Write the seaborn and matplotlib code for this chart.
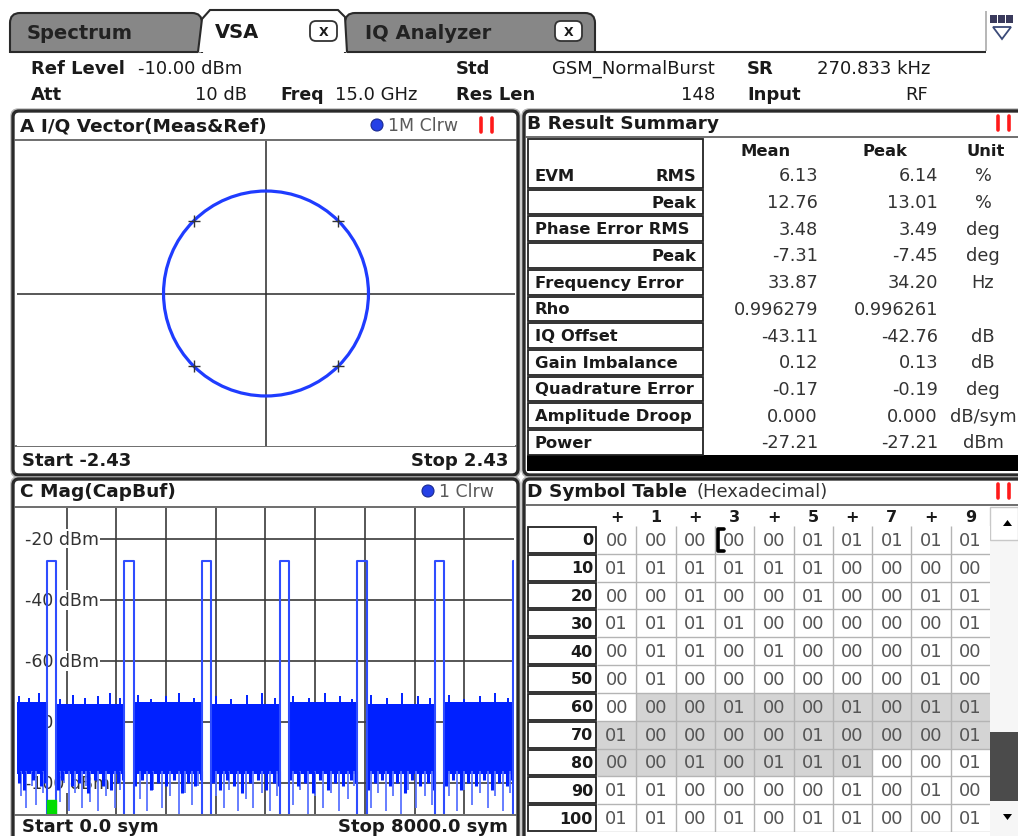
"""
VSA screen: I/Q vector, result summary, burst magnitude and symbol table
"""

import numpy as np
import pandas as pd
import matplotlib
matplotlib.use("Agg")
import matplotlib.pyplot as plt
from matplotlib.patches import Rectangle, FancyBboxPatch, Circle, Polygon
from matplotlib.colors import ListedColormap
import seaborn as sns

W, H = 1018, 837

# ---------------- data ----------------
iq_span = 2.43
iq_magnitude = 1.0
ref_i = [0.707, -0.707, -0.707, 0.707]
ref_q = [0.707, 0.707, -0.707, -0.707]

summary_name = ["EVM", "", "Phase Error RMS", "", "Frequency Error", "Rho",
                "IQ Offset", "Gain Imbalance", "Quadrature Error",
                "Amplitude Droop", "Power"]
summary_sub = ["RMS", "Peak", "", "Peak", "", "", "", "", "", "", ""]
summary_mean = ["6.13", "12.76", "3.48", "-7.31", "33.87", "0.996279",
                "-43.11", "0.12", "-0.17", "0.000", "-27.21"]
summary_peak = ["6.14", "13.01", "3.49", "-7.45", "34.20", "0.996261",
                "-42.76", "0.13", "-0.19", "0.000", "-27.21"]
summary_unit = ["%", "%", "deg", "deg", "Hz", "", "dB", "dB", "deg",
                "dB/sym", "dBm"]

mag_start, mag_stop = 0.0, 8000.0
mag_ref, mag_bottom = -10.0, -110.0
mag_grid_dbm = [-20, -40, -60, -80, -100]
burst_start = [480, 1730, 2980, 4230, 5480, 6730, 7980]
burst_len = 148
burst_level = -27.2
noise_top = [-73.5, -74.0, -73.5, -74.0, -73.5, -74.0, -73.5]
noise_floor = -97.0
# light downward spikes reaching the bottom of the screen
spike_sym = [70, 150, 235, 310, 420,
             690, 760, 830, 935, 1040, 1110, 1175, 1310, 1440, 1580, 1660,
             1980, 2090, 2195, 2330, 2460, 2600, 2700, 2810, 2920,
             3200, 3330, 3420, 3560, 3690, 3800, 3950, 4080, 4180,
             4450, 4560, 4690, 4800, 4930, 5060, 5190, 5330, 5430,
             5700, 5810, 5940, 6060, 6180, 6300, 6420, 6560, 6680,
             6950, 7080, 7200, 7330, 7460, 7580, 7700, 7830, 7930]
spike_dbm = [-104, -108, -101, -107, -103,
             -106, -100, -109, -103, -108, -101, -106, -109, -104, -108, -102,
             -105, -109, -102, -108, -104, -110, -103, -107, -101,
             -104, -108, -102, -109, -105, -108, -103, -109, -104,
             -107, -102, -110, -104, -108, -103, -109, -105, -101,
             -108, -103, -109, -104, -110, -102, -108, -104, -107,
             -104, -109, -102, -107, -103, -108, -104, -109, -103]
# dense dips just under the noise floor
dip_sym = [30, 120, 260, 380, 450,
           660, 720, 880, 990, 1150, 1250, 1380, 1520, 1620, 1700,
           1900, 2020, 2150, 2270, 2400, 2530, 2650, 2760, 2870, 2960,
           3150, 3260, 3380, 3500, 3620, 3750, 3880, 4010, 4130, 4210,
           4400, 4520, 4640, 4760, 4880, 5000, 5120, 5250, 5380, 5460,
           5650, 5760, 5880, 6000, 6120, 6240, 6360, 6490, 6610, 6710,
           6900, 7020, 7140, 7260, 7390, 7520, 7640, 7760, 7880, 7960]
dip_dbm = [-100, -102, -99, -101, -100,
           -102, -99, -101, -100, -103, -99, -101, -102, -100, -99,
           -101, -99, -102, -100, -101, -99, -103, -100, -101, -99,
           -100, -102, -99, -101, -103, -100, -99, -102, -100, -101,
           -99, -101, -100, -103, -99, -102, -100, -101, -99, -100,
           -102, -100, -99, -101, -100, -103, -99, -101, -100, -102,
           -101, -99, -102, -100, -101, -99, -102, -100, -101, -99]
# small jags on top of the noise band
jag_sym = [40, 200, 350, 700, 900, 1100, 1300, 1500, 1650, 1950, 2150, 2400,
           2600, 2850, 3200, 3450, 3700, 3950, 4150, 4450, 4700, 4950, 5200,
           5400, 5700, 5950, 6200, 6450, 6650, 6950, 7200, 7450, 7700, 7900]
jag_dbm = [-71.5, -72.0, -70.5, -72.5, -71.0, -72.0, -71.5, -70.5, -72.0,
           -71.0, -72.5, -71.5, -70.5, -72.0, -71.5, -72.5, -71.0, -70.5,
           -72.0, -71.5, -72.0, -70.5, -71.5, -72.5, -71.0, -72.0, -70.5,
           -71.5, -72.0, -71.0, -72.5, -71.5, -70.5, -72.0]

sym_cols = ["+", "1", "+", "3", "+", "5", "+", "7", "+", "9"]
sym_rows = ["0", "10", "20", "30", "40", "50", "60", "70", "80", "90", "100"]
symbol_table = [
    ["00", "00", "00", "00", "00", "01", "01", "01", "01", "01"],
    ["01", "01", "01", "01", "01", "01", "00", "00", "00", "00"],
    ["00", "00", "01", "00", "00", "01", "00", "00", "01", "01"],
    ["01", "01", "01", "01", "00", "00", "00", "00", "00", "01"],
    ["00", "01", "01", "00", "01", "00", "00", "00", "01", "00"],
    ["00", "01", "00", "00", "00", "00", "00", "00", "01", "00"],
    ["00", "00", "00", "01", "00", "00", "01", "00", "01", "01"],
    ["01", "00", "00", "00", "00", "01", "00", "00", "00", "01"],
    ["00", "00", "01", "00", "01", "01", "01", "00", "00", "01"],
    ["01", "01", "00", "00", "00", "00", "01", "00", "01", "00"],
    ["01", "01", "00", "01", "00", "01", "01", "00", "00", "01"],
]
tsc_first, tsc_last = 61, 86

# ---------------- styling ----------------
sns.set_style("white")
plt.rcParams["font.family"] = ["DejaVu Sans"]

BLUE = "#1f3cff"
DARK = "#2a2a2a"


def rect(x0, y0, x1, y1):
    return [x0 / W, 1 - y1 / H, (x1 - x0) / W, (y1 - y0) / H]


fig = plt.figure(figsize=(W / 100, H / 100), dpi=100)
bg = fig.add_axes([0, 0, 1, 1], zorder=0)
bg.set_xlim(0, W)
bg.set_ylim(H, 0)
bg.axis("off")


def txt(x, y, s, size=13, bold=False, color="#1a1a1a", ha="left", **kw):
    bg.text(x, y, s, fontsize=size, fontweight="bold" if bold else "normal",
            color=color, ha=ha, va="center", **kw)


def hline(x0, x1, y, color=DARK, lw=1.2):
    bg.plot([x0, x1], [y, y], color=color, lw=lw, solid_capstyle="butt")


def vline(x, y0, y1, color=DARK, lw=1.2):
    bg.plot([x, x], [y0, y1], color=color, lw=lw, solid_capstyle="butt")


# ---------------- tabs ----------------
for x0, w in [(10, 192), (345, 250)]:
    bg.add_patch(FancyBboxPatch((x0, 14), w, 60,
                                boxstyle="round,pad=0,rounding_size=10",
                                fc="#878787", ec=DARK, lw=1.5))
bg.add_patch(Polygon([[198, 53], [202, 20], [210, 11], [338, 11], [345, 18],
                      [347, 53]], closed=False, fc="white", ec=DARK, lw=1.5))
bg.add_patch(Rectangle((0, 54), W, 60, fc="white", ec="none", zorder=2))
hline(10, 198, 53, lw=1.5)
hline(347, 986, 53, lw=1.5)
vline(986, 12, 52, color="#aaaaaa", lw=1.2)
txt(27, 33, "Spectrum", 14, True, color="#222222")
txt(215, 32, "VSA", 14, True)
txt(365, 33, "IQ Analyzer", 14, True, color="#222222")
for cx in (310, 555):
    bg.add_patch(FancyBboxPatch((cx, 22), 27, 20,
                                boxstyle="round,pad=0,rounding_size=6",
                                fc="white", ec="#333333", lw=1.3))
    txt(cx + 13.5, 32, "X", 9, True, ha="center")
for sx in (990, 998, 1006):
    bg.add_patch(Rectangle((sx, 16), 7, 8, fc="#3a3a5c", ec="none"))
bg.add_patch(Polygon([[993, 28], [1011, 28], [1002, 40]], closed=True,
                     fc="white", ec="#3b4a78", lw=1.3))

# ---------------- info rows ----------------
txt(31, 69, "Ref Level", 13, True, zorder=3)
txt(138, 69, "-10.00 dBm", 13, zorder=3)
txt(456, 69, "Std", 13, True, zorder=3)
txt(715, 69, "GSM_NormalBurst", 13, ha="right", zorder=3)
txt(747, 69, "SR", 13, True, zorder=3)
txt(930, 69, "270.833 kHz", 13, ha="right", zorder=3)
txt(31, 95, "Att", 13, True, zorder=3)
txt(247, 95, "10 dB", 13, ha="right", zorder=3)
txt(280, 95, "Freq", 12.5, True, zorder=3)
txt(335, 95, "15.0 GHz", 13, zorder=3)
txt(456, 95, "Res Len", 13, True, zorder=3)
txt(715, 95, "148", 13, ha="right", zorder=3)
txt(747, 95, "Input", 13, True, zorder=3)
txt(928, 95, "RF", 13, ha="right", zorder=3)


# ---------------- panel frames ----------------
def frame(x0, y0, x1, y1):
    bg.add_patch(FancyBboxPatch((x0 - 2, y0 - 2), x1 - x0 + 4, y1 - y0 + 4,
                                boxstyle="round,pad=0,rounding_size=7",
                                fc="none", ec="#b5b5b5", lw=1.0, zorder=3))
    bg.add_patch(FancyBboxPatch((x0, y0), x1 - x0, y1 - y0,
                                boxstyle="round,pad=0,rounding_size=6",
                                fc="white", ec=DARK, lw=2.4, zorder=3))


frame(13, 112, 518, 476)
frame(524, 112, 1040, 476)
frame(13, 480, 518, 860)
frame(524, 480, 1040, 860)
for x0, x1, y in [(15, 516, 141), (15, 516, 447), (526, 1018, 138),
                  (15, 516, 508), (15, 516, 816), (526, 1018, 506)]:
    bg.plot([x0, x1], [y, y], color="#555555", lw=1.2, zorder=4)


def red_bars(x, y):
    for dx in (0, 11):
        bg.plot([x + dx, x + dx], [y - 7, y + 7], color="#ff1a1a", lw=2.6,
                zorder=5)


def legend_dot(x, y, label):
    bg.add_patch(Circle((x, y), 6, fc="#2540e6", ec="#1a2a90", lw=0.8,
                        zorder=5))
    txt(x + 11, y, label, 12.5, color="#5a5a5a", zorder=5)


# titles
txt(20, 126, "A I/Q Vector(Meas&Ref)", 13.3, True, zorder=5)
legend_dot(377, 126, "1M Clrw")
red_bars(481, 126)
txt(527, 124, "B Result Summary", 13.3, True, zorder=5)
red_bars(998, 124)
txt(20, 492, "C Mag(CapBuf)", 13.3, True, zorder=5)
legend_dot(428, 492, "1 Clrw")
txt(527, 492, "D Symbol Table", 13.3, True, zorder=5)
txt(697, 492, "(Hexadecimal)", 13, color="#333333", zorder=5)
red_bars(998, 492)
txt(22, 461, "Start -2.43", 13, True, zorder=5)
txt(508, 461, "Stop 2.43", 13, True, ha="right", zorder=5)
txt(22, 827, "Start 0.0 sym", 13, True, zorder=5)
txt(508, 827, "Stop 8000.0 sym", 13, True, ha="right", zorder=5)

# ---------------- A: I/Q vector ----------------
axa = fig.add_axes(rect(17, 142, 515, 447), zorder=2)
axa.set_xlim(-iq_span, iq_span)
yspan = iq_span * (447 - 142) / (515 - 17)
axa.set_ylim(-yspan, yspan)
axa.axhline(0, color=DARK, lw=1.1, zorder=1)
axa.axvline(0, color=DARK, lw=1.1, zorder=1)
axa.add_patch(Circle((0, 0), iq_magnitude, fill=False, ec=BLUE, lw=2.3,
                     zorder=2))
sns.scatterplot(x=ref_i, y=ref_q, marker="+", s=80, color="#333333",
                linewidth=1.0, ax=axa, zorder=3)
axa.set_xticks([])
axa.set_yticks([])
for sp in axa.spines.values():
    sp.set_visible(False)

# ---------------- B: result summary ----------------
row_h = 26.7
top = 163
bg.add_patch(Rectangle((527, 456), 495, 16, fc="black", ec="none", zorder=4))
for i in range(len(summary_name)):
    y0 = top + row_h * i
    y1 = y0 + row_h
    yc = (y0 + y1) / 2
    hline(704, 1018, y1, color="#c4c4c4", lw=1.0)
    by0 = 139 if i == 0 else y0
    bg.add_patch(Rectangle((528.5, by0 + 1), 175, y1 - by0 - 2, fc="white",
                           ec="#222222", lw=1.3, zorder=4))
    if summary_name[i]:
        txt(535, yc, summary_name[i], 11.8, True, zorder=5)
    if summary_sub[i]:
        txt(696, yc, summary_sub[i], 11.8, True, ha="right", zorder=5)
    txt(818, yc, summary_mean[i], 12.8, color="#333333", ha="right", zorder=5)
    txt(938, yc, summary_peak[i], 12.8, color="#333333", ha="right", zorder=5)
    txt(983, yc, summary_unit[i], 12.8, color="#333333", ha="center", zorder=5)
vline(825, 163, 456, color="#c4c4c4", lw=1.0)
vline(944, 163, 456, color="#c4c4c4", lw=1.0)
vline(825, 139, 163, lw=1.8)
vline(944, 139, 163, lw=1.8)
hline(704, 1018, 163, lw=1.8)
txt(766, 151, "Mean", 11.8, True, ha="center", zorder=5)
txt(885, 151, "Peak", 11.8, True, ha="center", zorder=5)
txt(986, 151, "Unit", 11.8, True, ha="center", zorder=5)

# ---------------- C: magnitude capture buffer ----------------
axc = fig.add_axes(rect(17, 509, 514, 815), zorder=2)
axc.set_xlim(mag_start, mag_stop)
axc.set_ylim(mag_bottom, mag_ref)
for k in range(1, 10):
    axc.axvline(mag_start + k * (mag_stop - mag_start) / 10, color="#3a3a3a",
                lw=1.2, zorder=1)
for yv in mag_grid_dbm:
    axc.axhline(yv, color="#3a3a3a", lw=1.2, zorder=1)
    axc.add_patch(Rectangle((mag_start, yv - 1.5), 140, 3, fc="white",
                            ec="none", zorder=1.5))
    axc.text(130, yv, f"{yv} dBm", fontsize=12.5, color="#333333",
             va="center", ha="left", zorder=2,
             bbox=dict(fc="white", ec="none", pad=0.6))

gap_edges = [mag_start] + [s + burst_len for s in burst_start[:-1]]
for k, (a, b) in enumerate(zip(gap_edges, burst_start)):
    axc.fill_between([a, b], [noise_floor, noise_floor],
                     [noise_top[k], noise_top[k]], color="#0020ff", lw=0,
                     zorder=3)
axc.vlines(spike_sym, noise_floor + 1, spike_dbm, color="#5a74ff", lw=1.3,
           zorder=3)
axc.vlines(dip_sym, noise_floor + 1, dip_dbm, color="#0020ff", lw=2.2,
           zorder=3)
axc.vlines(jag_sym, noise_top[0] - 1, jag_dbm, color="#0020ff", lw=1.4,
           zorder=3)

burst_df = pd.DataFrame({
    "burst": np.repeat(np.arange(len(burst_start)), 4),
    "sym": np.ravel([[s, s, s + burst_len, s + burst_len] for s in burst_start]),
    "dbm": np.tile([mag_bottom, burst_level, burst_level, mag_bottom],
                   len(burst_start)),
})
sns.lineplot(data=burst_df, x="sym", y="dbm", units="burst", estimator=None,
             sort=False, color="#2f4dff", lw=1.5, ax=axc, zorder=4)
axc.add_patch(Rectangle((burst_start[0], mag_bottom), burst_len, 4.5,
                        color="#00dd00", zorder=5))
axc.set_xticks([])
axc.set_yticks([])
axc.set_xlabel("")
axc.set_ylabel("")
for sp in axc.spines.values():
    sp.set_visible(False)

# ---------------- D: symbol table ----------------
n_rows, n_cols = len(symbol_table), len(sym_cols)
idx = np.arange(n_rows)[:, None] * n_cols + np.arange(n_cols)[None, :]
shade = ((idx >= tsc_first) & (idx <= tsc_last)).astype(int)

axd = fig.add_axes(rect(597, 527, 990, 833), zorder=2)
sns.heatmap(shade, ax=axd, cmap=ListedColormap(["white", "#d4d4d4"]),
            vmin=0, vmax=1, cbar=False, annot=np.array(symbol_table), fmt="",
            annot_kws={"color": "#555555", "fontsize": 13},
            linewidths=0, xticklabels=False, yticklabels=False)
axd.hlines(np.arange(1, n_rows + 1), 0, n_cols, color="#b4b4b4", lw=1.0,
           zorder=3)
axd.vlines(np.arange(1, n_cols), 0, n_rows, color="#b4b4b4", lw=1.0,
           zorder=3)
axd.plot([3.24, 3.07, 3.07, 3.24], [0.1, 0.1, 0.9, 0.9], color="black",
         lw=2.6, zorder=5, clip_on=False)

cw = (990 - 597) / n_cols
rh = (833 - 527) / n_rows
for j, c in enumerate(sym_cols):
    txt(597 + cw * (j + 0.5), 517, c, 11.5, True, ha="center", zorder=5)
    vline(597 + cw * j, 507, 527, lw=1.6)
hline(597, 990, 507, lw=1.6)
hline(597, 990, 527, lw=1.8)
for i, r in enumerate(sym_rows):
    y0 = 527 + rh * i
    bg.add_patch(Rectangle((528.5, y0 + 1), 68, rh - 2, fc="white",
                           ec="#222222", lw=1.3, zorder=4))
    txt(593, y0 + rh / 2, r, 11.5, True, ha="right", zorder=5)

# scrollbar
bg.add_patch(Rectangle((990, 508), 28, 330, fc="#f6f6f6", ec="none", zorder=4))
bg.add_patch(Rectangle((990, 508), 28, 33, fc="white", ec="#c8c8c8", lw=1,
                       zorder=4))
bg.add_patch(Polygon([[1003, 527], [1012, 527], [1007.5, 521]], closed=True,
                     fc="black", ec="none", zorder=5))
for gy in (632, 637, 642):
    hline(996, 1016, gy, color="#8a8a8a", lw=1.2)
bg.add_patch(Rectangle((990, 733), 28, 69, fc="#4b4b4b", ec="none", zorder=5))
bg.add_patch(Polygon([[1003, 815], [1012, 815], [1007.5, 821]], closed=True,
                     fc="black", ec="none", zorder=5))

fig.savefig("out.png", dpi=100)
